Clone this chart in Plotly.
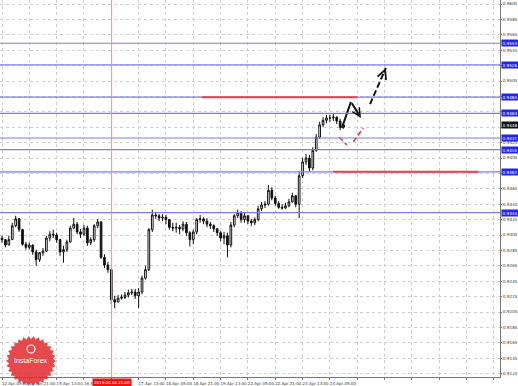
import numpy as np
import plotly.graph_objects as go

# ---------------- data ----------------
hour_index = list(range(0, 201, 2))  # 2-hour candles, x in hours from 12 Apr 05:00

closes = [
    0.9299, 0.9292, 0.9299, 0.9317, 0.9326, 0.9312, 0.9293, 0.9289, 0.9292, 0.9283,
    0.9273, 0.9282, 0.9284, 0.9301, 0.9306, 0.9305, 0.9299, 0.9283, 0.9286, 0.9296,
    0.9314, 0.9319, 0.9309, 0.9306, 0.9314, 0.9295, 0.9299, 0.9317, 0.9322, 0.9276,
    0.9266, 0.9260, 0.9221, 0.9218, 0.9223, 0.9224, 0.9227, 0.9230, 0.9231, 0.9226,
    0.9231, 0.9249, 0.9260, 0.9312, 0.9331, 0.9330, 0.9327, 0.9328, 0.9325, 0.9315,
    0.9314, 0.9315, 0.9313, 0.9319, 0.9308, 0.9299, 0.9309, 0.9325, 0.9326, 0.9323,
    0.9319, 0.9317, 0.9313, 0.9308, 0.9301, 0.9304, 0.9292, 0.9318, 0.9330, 0.9334,
    0.9325, 0.9330, 0.9323, 0.9321, 0.9325, 0.9339, 0.9344, 0.9345, 0.9363, 0.9353,
    0.9346, 0.9341, 0.9340, 0.9343, 0.9348, 0.9356, 0.9345, 0.9382, 0.9400, 0.9405,
    0.9392, 0.9415, 0.9432, 0.9448, 0.9454, 0.9457, 0.9457, 0.9458, 0.9453, 0.9445,
    0.9448,
]
highs = [
    0.9304, 0.9300, 0.9304, 0.9321, 0.9330, 0.9327, 0.9313, 0.9296, 0.9295, 0.9293,
    0.9286, 0.9283, 0.9288, 0.9304, 0.9310, 0.9312, 0.9308, 0.9300, 0.9291, 0.9299,
    0.9317, 0.9327, 0.9322, 0.9313, 0.9318, 0.9317, 0.9302, 0.9319, 0.9326, 0.9323,
    0.9280, 0.9270, 0.9262, 0.9226, 0.9227, 0.9228, 0.9231, 0.9234, 0.9235, 0.9235,
    0.9236, 0.9252, 0.9265, 0.9314, 0.9338, 0.9335, 0.9332, 0.9332, 0.9331, 0.9326,
    0.9321, 0.9321, 0.9318, 0.9323, 0.9322, 0.9310, 0.9312, 0.9327, 0.9331, 0.9328,
    0.9327, 0.9322, 0.9319, 0.9314, 0.9310, 0.9309, 0.9308, 0.9322, 0.9332, 0.9338,
    0.9336, 0.9334, 0.9331, 0.9326, 0.9328, 0.9343, 0.9348, 0.9349, 0.9370, 0.9367,
    0.9356, 0.9349, 0.9345, 0.9347, 0.9352, 0.9360, 0.9357, 0.9387, 0.9405, 0.9410,
    0.9409, 0.9419, 0.9436, 0.9452, 0.9458, 0.9461, 0.9461, 0.9462, 0.9459, 0.9456,
    0.9452,
]
lows = [
    0.9295, 0.9289, 0.9292, 0.9299, 0.9315, 0.9309, 0.9291, 0.9286, 0.9286, 0.9279,
    0.9265, 0.9270, 0.9278, 0.9283, 0.9297, 0.9301, 0.9295, 0.9278, 0.9269, 0.9283,
    0.9295, 0.9313, 0.9306, 0.9301, 0.9304, 0.9291, 0.9292, 0.9296, 0.9314, 0.9274,
    0.9262, 0.9256, 0.9215, 0.9210, 0.9218, 0.9221, 0.9222, 0.9224, 0.9227, 0.9222,
    0.9210, 0.9228, 0.9247, 0.9258, 0.9309, 0.9326, 0.9323, 0.9323, 0.9319, 0.9312,
    0.9310, 0.9308, 0.9306, 0.9310, 0.9304, 0.9290, 0.9293, 0.9306, 0.9321, 0.9319,
    0.9315, 0.9313, 0.9309, 0.9304, 0.9297, 0.9293, 0.9276, 0.9289, 0.9315, 0.9327,
    0.9321, 0.9321, 0.9319, 0.9317, 0.9318, 0.9323, 0.9336, 0.9340, 0.9343, 0.9350,
    0.9343, 0.9339, 0.9338, 0.9339, 0.9341, 0.9347, 0.9341, 0.9327, 0.9379, 0.9396,
    0.9387, 0.9389, 0.9413, 0.9430, 0.9445, 0.9450, 0.9452, 0.9453, 0.9449, 0.9441,
    0.9443,
]
first_open = 0.9301
opens = [first_open] + closes[:-1]
assert len(closes) == len(highs) == len(lows) == len(hour_index)

x_tick_hours = list(range(0, 289, 16))
x_tick_labels = ["12 Apr 05:00", "12 Apr 21:00", "15 Apr 13:00", "16 Apr 05:00",
                 "", "17 Apr 13:00", "18 Apr 05:00", "18 Apr 21:00",  # 16 Apr 21:00 sits under the red time label
                 "19 Apr 13:00", "22 Apr 05:00", "22 Apr 21:00", "23 Apr 13:00",
                 "24 Apr 05:00"]
y_tick_values = [round(0.9125 + 0.002 * i, 4) for i in range(25)]
y_ticks_covered = [0.9525, 0.9485, 0.9465, 0.9445, 0.9385]  # hidden behind price labels

blue_levels = [0.9554, 0.9526, 0.9484, 0.9463, 0.9431, 0.9416, 0.9387, 0.9334]
current_price = 0.9448

red_segments = [  # (level, start hour, end hour)
    (0.9484, 117, 208),
    (0.9387, 194, 279),
]
marker_hour = 64.2
marker_label = "2019.04.16 21:00"

solid_path_x = [199.0, 204.3, 210.2]
solid_path_y = [0.9444, 0.9478, 0.9457]
dashed_path_x = [215.5, 224.8]
dashed_path_y = [0.9475, 0.9522]
red_path1_x = [197.5, 201.9]
red_path1_y = [0.9432, 0.9422]
red_path2_x = [205.7, 211.5]
red_path2_y = [0.9426, 0.9444]

X_RANGE = [-1.17, 291.6]
Y_RANGE = [0.91206, 0.96102]
FS = 4.2   # tiny axis font
FSX = 4.0  # date labels

# ---------------- figure ----------------
fig = go.Figure()

fig.add_trace(go.Candlestick(
    x=hour_index, open=opens, high=highs, low=lows, close=closes,
    increasing=dict(line=dict(color="#111111", width=1), fillcolor="#ffffff"),
    decreasing=dict(line=dict(color="#111111", width=1), fillcolor="#111111"),
    whiskerwidth=0, hoverinfo="skip",
))

shapes = []
for lv in blue_levels:
    shapes.append(dict(type="line", xref="paper", x0=0, x1=1, yref="y", y0=lv, y1=lv,
                       line=dict(color="#7b7bf0", width=1.2), layer="above"))
for lv, a, b in red_segments:
    shapes.append(dict(type="line", xref="x", x0=a, x1=b, yref="y", y0=lv, y1=lv,
                       line=dict(color="#f04040", width=2), layer="above"))
shapes.append(dict(type="line", xref="x", x0=marker_hour, x1=marker_hour, yref="paper",
                   y0=0, y1=1, line=dict(color="#f59090", width=1), layer="above"))

# InstaForex logo (decorative starburst)
n = 30
ang = np.linspace(0, 2 * np.pi, 2 * n, endpoint=False)
rad = np.where(np.arange(2 * n) % 2 == 0, 25.0, 22.0)
pts = [f"{r*np.cos(t):.2f},{r*np.sin(t):.2f}" for r, t in zip(rad, ang)]
star_path = "M" + " L".join(pts) + " Z"
shapes.append(dict(type="path", xref="paper", yref="paper", xsizemode="pixel",
                   ysizemode="pixel", xanchor=31 / 500, yanchor=1 - 361 / 377,
                   path=star_path, fillcolor="rgba(226,40,44,0.85)",
                   line=dict(width=0), layer="above"))
shapes.append(dict(type="circle", xref="paper", yref="paper", xsizemode="pixel",
                   ysizemode="pixel", xanchor=31 / 500, yanchor=1 - 349 / 377,
                   x0=-4, x1=4, y0=-4, y1=4, line=dict(color="white", width=1.2),
                   fillcolor="rgba(0,0,0,0)", layer="above"))

fig.add_trace(go.Scatter(x=solid_path_x[:2], y=solid_path_y[:2], mode="lines",
                         line=dict(color="#111111", width=2), hoverinfo="skip"))
fig.add_trace(go.Scatter(x=dashed_path_x, y=dashed_path_y, mode="lines",
                         line=dict(color="#111111", width=2, dash="6px,3px"), hoverinfo="skip"))
fig.add_trace(go.Scatter(x=red_path1_x, y=red_path1_y, mode="lines",
                         line=dict(color="#f03030", width=1.6, dash="5px,3px"), hoverinfo="skip"))
fig.add_trace(go.Scatter(x=red_path2_x, y=red_path2_y, mode="lines",
                         line=dict(color="#f03030", width=1.6, dash="5px,3px"), hoverinfo="skip"))

annotations = []
# arrowheads
annotations.append(dict(x=solid_path_x[2], y=solid_path_y[2], ax=solid_path_x[1], ay=solid_path_y[1],
                        xref="x", yref="y", axref="x", ayref="y", text="", showarrow=True,
                        arrowhead=5, arrowsize=0.8, arrowwidth=2, arrowcolor="#111111"))
annotations.append(dict(x=dashed_path_x[1], y=dashed_path_y[1], ax=-2, ay=5,
                        xref="x", yref="y", text="", showarrow=True,
                        arrowhead=5, arrowsize=0.9, arrowwidth=2, arrowcolor="#111111"))
annotations.append(dict(x=red_path2_x[1], y=red_path2_y[1], ax=-3, ay=4,
                        xref="x", yref="y", text="", showarrow=True,
                        arrowhead=5, arrowsize=1.0, arrowwidth=1.6, arrowcolor="#f03030"))

# price labels on the right axis
for lv in blue_levels:
    annotations.append(dict(x=1, xref="paper", xanchor="left", xshift=1, y=lv, yref="y",
                            text=f"{lv:.4f}", showarrow=False, bgcolor="#2424f0",
                            font=dict(color="white", size=FS, family="DejaVu Sans"),
                            borderpad=0.5, width=15, height=5))
annotations.append(dict(x=1, xref="paper", xanchor="left", xshift=1, y=current_price, yref="y",
                        text=f"{current_price:.4f}", showarrow=False, bgcolor="#111111",
                        font=dict(color="white", size=FS, family="DejaVu Sans"),
                        borderpad=0.5, width=15, height=5))
# red time label
annotations.append(dict(x=marker_hour, xref="x", y=0, yref="paper", yanchor="top",
                        yshift=-1, text=marker_label, showarrow=False, bgcolor="#ee1111",
                        font=dict(color="white", size=FSX, family="DejaVu Sans"), borderpad=1))
# logo text
annotations.append(dict(x=31 / 500, y=1 - 360 / 377, xref="paper", yref="paper",
                        xanchor="center", yanchor="middle",
                        text="InstaForex", showarrow=False,
                        font=dict(color="white", size=7, family="Liberation Sans")))

y_tick_text = ["" if v in y_ticks_covered else f"{v:.4f}" for v in y_tick_values]

fig.update_layout(
    width=518, height=386,
    margin=dict(l=0, r=18, t=0, b=9, autoexpand=False),
    plot_bgcolor="white", paper_bgcolor="white",
    showlegend=False,
    shapes=shapes, annotations=annotations,
    xaxis=dict(range=X_RANGE, rangeslider=dict(visible=False),
               tickvals=x_tick_hours,
               ticktext=x_tick_labels + [""] * (len(x_tick_hours) - len(x_tick_labels)),
               tickangle=0, automargin=False,
               showgrid=True, gridcolor="#cfcfcf", griddash="dot", gridwidth=1,
               showline=True, linecolor="#777777", linewidth=1,
               ticks="outside", ticklen=2, tickcolor="#777777",
               tickfont=dict(size=FSX, color="#333333", family="DejaVu Sans"),
               ticklabelshift=13, ticklabelstandoff=0, zeroline=False, fixedrange=True),
    yaxis=dict(range=Y_RANGE, side="right", tickvals=y_tick_values,
               ticktext=y_tick_text, automargin=False,
               showgrid=True, gridcolor="#cfcfcf", griddash="dot", gridwidth=1,
               showline=True, linecolor="#777777", linewidth=1,
               ticks="outside", ticklen=1, tickcolor="#777777",
               tickfont=dict(size=FS, color="#333333", family="DejaVu Sans"),
               ticklabelstandoff=0, zeroline=False, fixedrange=True),
)

fig.write_html("out.html")
